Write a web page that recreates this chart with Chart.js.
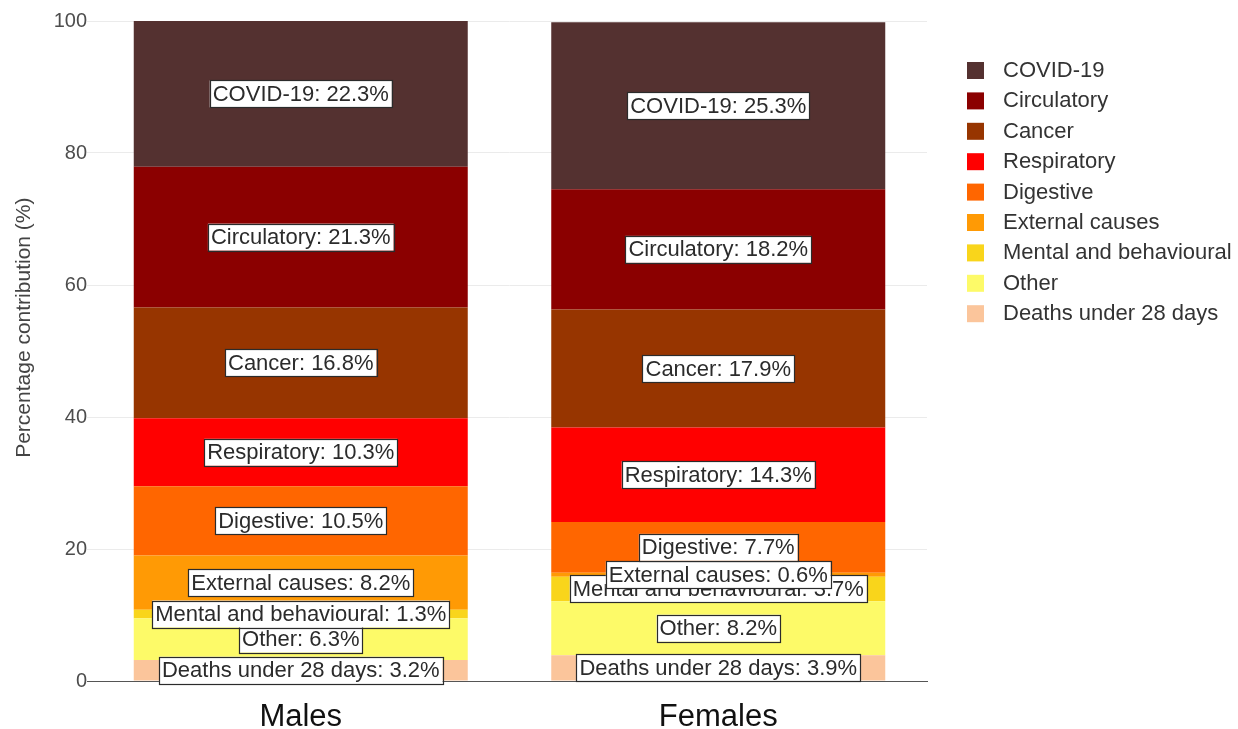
<!DOCTYPE html>
<html>
<head>
<meta charset="utf-8">
<title>Percentage contribution by cause</title>
<script src="https://cdn.jsdelivr.net/npm/chart.js@4"></script>
<style>
  body { margin: 0; background: #fff; }
  #wrap { width: 1238px; height: 729px; position: relative; }
</style>
</head>
<body>
<div id="wrap"><canvas id="chart"></canvas></div>
<script>
// stack order: bottom of the bar first
const categories = ["Males", "Females"];
const causes = ["Deaths under 28 days", "Other", "Mental and behavioural", "External causes", "Digestive", "Respiratory", "Cancer", "Circulatory", "COVID-19"];
const malesValues = [3.2, 6.3, 1.3, 8.2, 10.5, 10.3, 16.8, 21.3, 22.3];
const femalesValues = [3.9, 8.2, 3.7, 0.6, 7.7, 14.3, 17.9, 18.2, 25.3];
const causeColours = ["#fbc59b", "#fdfa68", "#f9d51b", "#ff9a05", "#ff6600", "#ff0000", "#973500", "#8b0000", "#543130"];
const yTicks = [0, 20, 40, 60, 80, 100];

const FONT = "'Liberation Sans', Arial, sans-serif";

// white boxed label in the middle of every segment
const segmentLabels = {
  id: "segmentLabels",
  afterDatasetsDraw(chart) {
    const ctx = chart.ctx;
    const area = chart.chartArea;
    ctx.save();
    ctx.font = "22px " + FONT;
    ctx.textAlign = "center";
    ctx.textBaseline = "middle";
    chart.data.datasets.forEach((ds, i) => {
      chart.getDatasetMeta(i).data.forEach((bar, j) => {
        const top = Math.max(bar.y, area.top);
        const y = (top + bar.base) / 2;
        const text = ds.label + ": " + ds.data[j] + "%";
        const w = ctx.measureText(text).width + 6;
        const h = 27;
        ctx.fillStyle = "#fff";
        ctx.fillRect(bar.x - w / 2, y - h / 2, w, h);
        ctx.strokeStyle = "#2b2b2b";
        ctx.lineWidth = 1.2;
        ctx.strokeRect(Math.round(bar.x - w / 2) + 0.5, Math.round(y - h / 2) + 0.5, Math.round(w), h);
        ctx.fillStyle = "#2b2b2b";
        ctx.fillText(text, bar.x, y + 1);
      });
    });
    ctx.restore();
  }
};

// legend listed top to bottom, opposite of the stack order
const sideLegend = {
  id: "sideLegend",
  afterDraw(chart) {
    const ctx = chart.ctx;
    ctx.save();
    ctx.font = "22px " + FONT;
    ctx.textBaseline = "middle";
    const items = chart.data.datasets.slice().reverse();
    items.forEach((ds, k) => {
      const y = 70 + k * 30.4;
      ctx.fillStyle = ds.backgroundColor;
      ctx.fillRect(967, y - 8, 17, 17);
      ctx.fillStyle = "#333";
      ctx.fillText(ds.label, 1003, y + 1);
    });
    ctx.restore();
  }
};

const datasets = causes.map((cause, i) => ({
  label: cause,
  data: [malesValues[i], femalesValues[i]],
  backgroundColor: causeColours[i],
  borderWidth: 0,
  barPercentage: 0.8,
  categoryPercentage: 1
}));

new Chart(document.getElementById("chart"), {
  type: "bar",
  data: { labels: categories, datasets: datasets },
  options: {
    responsive: true,
    maintainAspectRatio: false,
    animation: false,
    layout: { padding: { top: 21, right: 311, left: 12, bottom: 0 } },
    plugins: {
      legend: { display: false },
      tooltip: { enabled: false }
    },
    scales: {
      x: {
        stacked: true,
        grid: { display: false, drawTicks: false },
        border: { color: "#555", width: 1 },
        ticks: { color: "#111", font: { family: FONT, size: 31 }, padding: 18 },
        afterFit(scale) { scale.height = 48; }
      },
      y: {
        stacked: true,
        min: 0,
        max: 100,
        afterBuildTicks(scale) { scale.ticks = yTicks.map(v => ({ value: v })); },
        grid: {
          color: c => (c.tick && c.tick.value === 0 ? "#555" : "#ebebeb"),
          tickLength: 5
        },
        border: { display: false },
        ticks: { color: "#4d4d4d", font: { family: FONT, size: 20 }, padding: 0 },
        title: {
          display: true,
          // leading spaces lift the title a little above the axis middle, as in the original
          text: "        Percentage contribution (%)",
          color: "#444",
          font: { family: FONT, size: 21 },
          padding: 0
        },
        afterFit(scale) { scale.width = 80; }
      }
    }
  },
  plugins: [segmentLabels, sideLegend]
});
</script>
</body>
</html>
